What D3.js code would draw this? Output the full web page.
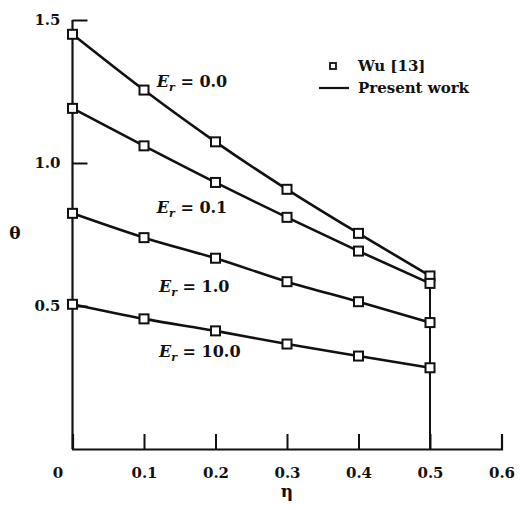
<!DOCTYPE html>
<html>
<head>
<meta charset="utf-8">
<script src="https://cdn.jsdelivr.net/npm/d3@7"></script>
<style>
html,body{margin:0;padding:0;background:#fff;}
svg text{font-family:"DejaVu Serif","Liberation Serif",serif;font-weight:bold;fill:#111;}
</style>
</head>
<body>
<svg id="chart" width="520" height="510"></svg>
<script>
const eta = [0, 0.1, 0.2, 0.3, 0.4, 0.5];
const seriesNames = ["0.0", "0.1", "1.0", "10.0"];
const theta_Er0 = [1.450, 1.255, 1.074, 0.908, 0.754, 0.605];
const theta_Er01 = [1.191, 1.060, 0.932, 0.810, 0.692, 0.579];
const theta_Er1 = [0.824, 0.739, 0.667, 0.585, 0.515, 0.442];
const theta_Er10 = [0.506, 0.455, 0.413, 0.367, 0.325, 0.284];
const xTicks = [0, 0.1, 0.2, 0.3, 0.4, 0.5, 0.6];
const yTicks = [0.5, 1.0, 1.5];
const labelPos = [[0.118, 1.266], [0.118, 0.825], [0.121, 0.549], [0.121, 0.322]];
const legendLabels = ["Wu [13]", "Present work"];

const series = [theta_Er0, theta_Er01, theta_Er1, theta_Er10];

const svg = d3.select("#chart");
const x = d3.scaleLinear().domain([0, 0.6]).range([72.5, 501.5]);
const y = d3.scaleLinear().domain([0, 1.5]).range([449, 20]);

const ink = "#111";

// axes
const xAxis = d3.axisBottom(x).tickValues(xTicks).tickSize(-15).tickPadding(18)
  .tickFormat(d => d === 0 ? "0" : d3.format(".1f")(d));
const gx = svg.append("g").attr("transform", `translate(0,${y(0)})`).call(xAxis);
gx.select(".domain").attr("stroke", ink).attr("stroke-width", 2.2);
gx.selectAll(".tick line").attr("stroke", ink).attr("stroke-width", 2);
gx.selectAll(".tick text").attr("font-size", 15).attr("fill", ink)
  .attr("dx", d => d === 0 ? -15 : 0);
gx.selectAll(".tick").filter(d => d === 0).select("line").remove();

const yAxis = d3.axisLeft(y).tickValues(yTicks).tickSize(-15).tickPadding(12)
  .tickFormat(d3.format(".1f"));
const gy = svg.append("g").attr("transform", `translate(${x(0)},0)`).call(yAxis);
gy.select(".domain").attr("stroke", ink).attr("stroke-width", 2.2)
  .attr("d", `M0,${y(1.5)}V${y(0)}`);
gy.selectAll(".tick line").attr("stroke", ink).attr("stroke-width", 2);
gy.selectAll(".tick text").attr("font-size", 15).attr("fill", ink);

// vertical line at eta = 0.5
svg.append("line")
  .attr("x1", x(0.5)).attr("x2", x(0.5))
  .attr("y1", y(0)).attr("y2", y(theta_Er0[5]))
  .attr("stroke", ink).attr("stroke-width", 2);

// curves
const line = d3.line().x((d, i) => x(eta[i])).y(d => y(d)).curve(d3.curveMonotoneX);
series.forEach(s => {
  svg.append("path").attr("d", line(s)).attr("fill", "none")
    .attr("stroke", ink).attr("stroke-width", 2.6);
});

// markers
const ms = 9;
series.forEach(s => {
  svg.append("g").selectAll("rect").data(s).join("rect")
    .attr("x", (d, i) => x(eta[i]) - ms / 2)
    .attr("y", d => y(d) - ms / 2)
    .attr("width", ms).attr("height", ms)
    .attr("fill", "#fff").attr("stroke", ink).attr("stroke-width", 2);
});

// series labels
seriesNames.forEach((n, i) => {
  const t = svg.append("text")
    .attr("x", x(labelPos[i][0])).attr("y", y(labelPos[i][1]))
    .attr("font-size", 16);
  t.append("tspan").attr("font-style", "italic").text("E");
  t.append("tspan").attr("font-style", "italic").attr("font-size", 11).attr("dy", 4).text("r");
  t.append("tspan").attr("dy", -4).text(" = " + n);
});

// axis titles
svg.append("text").attr("x", 15).attr("y", 239).attr("text-anchor", "middle")
  .attr("font-size", 17).text("θ");
svg.append("text").attr("x", x(0.3)).attr("y", 497).attr("text-anchor", "middle")
  .attr("font-size", 17).text("η");

// legend
const lg = svg.append("g");
lg.append("rect").attr("x", 330).attr("y", 63).attr("width", 6).attr("height", 6)
  .attr("fill", "#fff").attr("stroke", ink).attr("stroke-width", 1.8);
lg.append("text").attr("x", 358).attr("y", 71).attr("font-size", 15).text(legendLabels[0]);
lg.append("line").attr("x1", 319).attr("x2", 349).attr("y1", 88).attr("y2", 88)
  .attr("stroke", ink).attr("stroke-width", 2.2);
lg.append("text").attr("x", 358).attr("y", 93).attr("font-size", 15).text(legendLabels[1]);
</script>
</body>
</html>
